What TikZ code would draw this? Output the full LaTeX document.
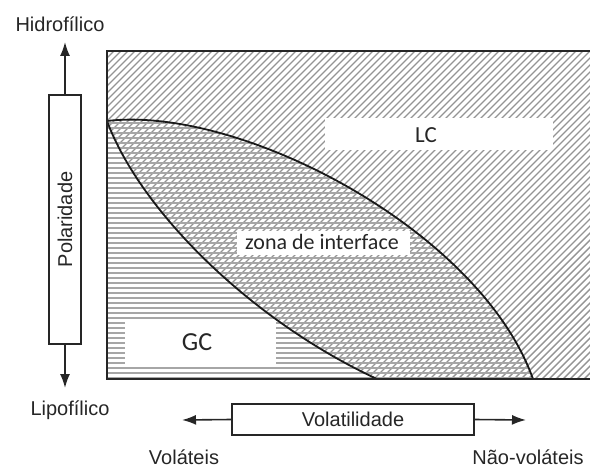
\documentclass[tikz,border=0pt]{standalone}
\usepackage{fontspec}
\setmainfont{Liberation Sans}
\newfontfamily\innerfont{Carlito}
\usetikzlibrary{arrows.meta}
\tikzset{
  outerlabel/.style={font=\fontsize{20bp}{24bp}\selectfont, text=black!85, inner sep=0pt},
  innerlabel/.style={font=\innerfont, text=black!85, inner sep=0pt},
  whitebox/.style={fill=white, draw=none, inner sep=0pt},
  axisbox/.style={draw=black!85, line width=1.2bp, fill=white, inner sep=0pt},
  arr/.style={draw=black!85, line width=1.6bp, -{Latex[length=14bp,width=10bp]}},
  diag/.style={draw=black!42, line width=1.4bp},
  horiz/.style={draw=black!35, line width=1.1bp},
  frame/.style={draw=black!85, line width=2bp},
  curve/.style={draw=black!90, line width=1.8bp},
}
\begin{document}
\begin{tikzpicture}[x=1bp,y=-1bp]
\useasboundingbox (0,0) rectangle (590,469);
% diagonal hatching: everything above the lower curve
\begin{scope}
  \clip (107,121) .. controls (140,210) and (250,320) .. (377,379) -- (590,379) -- (590,51) -- (107,51) -- cycle;
  \foreach \s in {158,165,...,975} {
    \draw[diag] (\s-379,379) -- (\s-51,51);
  }
\end{scope}
% horizontal hatching: everything below the upper curve
\begin{scope}
  \clip (107,121) .. controls (240,105) and (480,230) .. (533,379) -- (107,379) -- cycle;
  \foreach \y in {118,123,...,380} {
    \draw[horiz] (107,\y) -- (590,\y);
  }
\end{scope}
% white label boxes
\fill[white] (325,118) rectangle (553,150);
\fill[white] (237,231) rectangle (410,255);
\fill[white] (125,322) rectangle (276,366);
% curves
\draw[curve] (107,121) .. controls (240,105) and (480,230) .. (533,379);
\draw[curve] (107,121) .. controls (140,210) and (250,320) .. (377,379);
% frame (open on the right)
\draw[frame] (590,51) -- (107,51) -- (107,379) -- (590,379);
% inner labels
\node[innerlabel, font=\innerfont\fontsize{23bp}{27bp}\selectfont] (lc) at (426,135) {LC};
\node[innerlabel, font=\innerfont\fontsize{22bp}{26bp}\selectfont] (zona) at (322,242) {zona de interface};
\node[innerlabel, font=\innerfont\fontsize{26bp}{30bp}\selectfont] (gc) at (197,342) {GC};
% polarity axis
\node[axisbox, minimum width=32bp, minimum height=249bp] (pol) at (65,219.5) {};
\node[outerlabel, rotate=90] (poltext) at (pol.center) {Polaridade};
\coordinate (hidtip) at (65,42);
\coordinate (liptip) at (65,388);
\draw[arr] (pol.north) -- (hidtip);
\draw[arr] (pol.south) -- (liptip);
\node[outerlabel] (hid) at (60,24) {Hidrofílico};
\node[outerlabel] (lip) at (70,410) {Lipofílico};
% volatility axis
\node[axisbox, minimum width=242bp, minimum height=31bp] (vol) at (353,419.5) {};
\node[outerlabel] (voltext) at (vol.center) {Volatilidade};
\coordinate (voltip) at (182,420);
\coordinate (nvoltip) at (526,420);
\draw[arr] (vol.west) -- (voltip);
\draw[arr] (vol.east) -- (nvoltip);
\node[outerlabel] (volat) at (184,457) {Voláteis};
\node[outerlabel] (nvolat) at (528,457) {Não-voláteis};
\end{tikzpicture}
\end{document}
